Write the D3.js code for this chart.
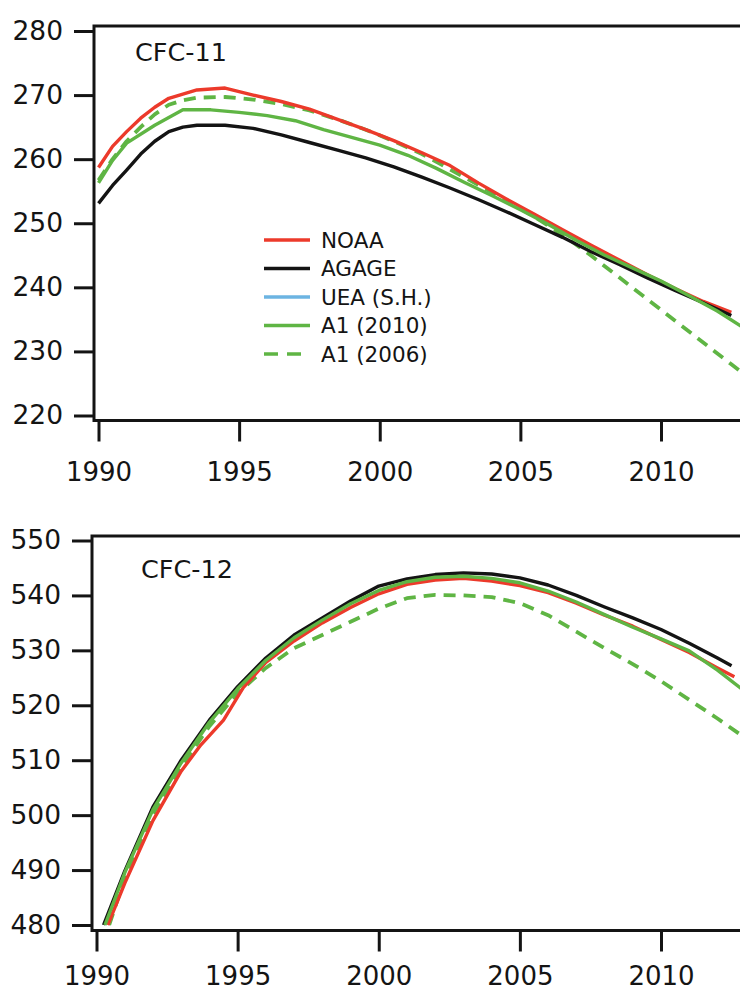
<!DOCTYPE html>
<html lang="en">
<head>
  <meta charset="UTF-8">
  <title>CFC-11 and CFC-12</title>
  <script src="https://cdn.jsdelivr.net/npm/d3@7"></script>
  <style>
    body { margin: 0; background: #fff; }
    svg { display: block; font-family: "DejaVu Sans", sans-serif; }
  </style>
</head>
<body>
  <div id="chart"></div>
  <script>
    // tick labels
    const yearTicks = [1990, 1995, 2000, 2005, 2010];
    const cfc11Ticks = [220, 230, 240, 250, 260, 270, 280];
    const cfc12Ticks = [480, 490, 500, 510, 520, 530, 540, 550];

    // legend
    const seriesNames = ["NOAA", "AGAGE", "UEA (S.H.)", "A1 (2010)", "A1 (2006)"];
    const seriesColors = ["#ec3a2b", "#141414", "#6cb4e2", "#5fb544", "#5fb544"];
    const seriesDashed = [false, false, false, false, true];

    // CFC-11, ppt  [year, value]
    const cfc11Noaa = [[1990.0, 258.7], [1990.5, 262.0], [1991.0, 264.3], [1991.5, 266.4], [1992.0, 268.1], [1992.5, 269.5],
      [1993.5, 270.8], [1994.5, 271.1], [1995.5, 270.0], [1996.5, 269.0], [1997.5, 267.8], [1998.5, 266.2], [1999.5, 264.6],
      [2000.5, 262.9], [2001.5, 261.0], [2002.5, 259.0], [2003.5, 256.3], [2004.5, 253.8], [2005.5, 251.4], [2006.5, 249.0],
      [2007.5, 246.6], [2008.5, 244.3], [2009.5, 242.0], [2010.5, 239.8], [2011.5, 237.8], [2012.5, 236.1]];
    const cfc11Agage = [[1990.0, 253.1], [1990.5, 255.9], [1991.0, 258.3], [1991.5, 260.8], [1992.0, 262.8], [1992.5, 264.3],
      [1993.0, 265.0], [1993.5, 265.3], [1994.5, 265.3], [1995.5, 264.8], [1996.5, 263.8], [1997.5, 262.6], [1998.5, 261.4],
      [1999.5, 260.2], [2000.5, 258.8], [2001.5, 257.2], [2002.5, 255.5], [2003.5, 253.7], [2004.5, 251.8], [2005.5, 249.8],
      [2006.5, 247.8], [2007.5, 245.6], [2008.5, 243.6], [2009.5, 241.5], [2010.5, 239.5], [2011.5, 237.6], [2012.5, 235.6]];
    const cfc11A1_2010 = [[1990.0, 256.3], [1990.5, 259.8], [1991.0, 262.5], [1992.0, 265.3], [1993.0, 267.7], [1994.0, 267.7],
      [1995.0, 267.3], [1996.0, 266.8], [1997.0, 266.0], [1998.0, 264.6], [1999.0, 263.4], [2000.0, 262.2], [2001.0, 260.6],
      [2002.0, 258.6], [2003.0, 256.4], [2004.0, 254.3], [2005.0, 252.1], [2006.0, 249.8], [2007.0, 247.3], [2008.0, 245.0],
      [2009.0, 243.0], [2010.0, 241.0], [2011.0, 238.7], [2012.0, 236.3], [2013.0, 233.5]];
    const cfc11A1_2006 = [[1990.0, 256.7], [1990.5, 260.0], [1991.0, 262.8], [1991.5, 265.0], [1992.0, 267.0], [1992.5, 268.5],
      [1993.0, 269.2], [1993.5, 269.6], [1994.5, 269.7], [1995.5, 269.3], [1996.5, 268.6], [1997.5, 267.6], [1998.5, 266.2],
      [1999.5, 264.6], [2000.5, 262.8], [2001.5, 260.8], [2002.5, 258.4], [2003.5, 256.0], [2004.5, 253.6], [2005.5, 251.0],
      [2006.5, 248.2], [2007.5, 245.0], [2008.5, 241.6], [2009.5, 238.2], [2010.5, 234.8], [2011.5, 231.4], [2012.5, 228.0],
      [2013.0, 226.3]];

    // CFC-12, ppt  [year, value]
    const cfc12Noaa = [[1990.4, 480.0], [1991.0, 487.6], [1992.0, 499.0], [1993.0, 508.0], [1993.7, 512.8], [1994.5, 517.3],
      [1995.2, 523.2], [1996.0, 527.8], [1997.0, 531.7], [1998.0, 535.0], [1999.0, 537.8], [2000.0, 540.3], [2001.0, 542.0],
      [2002.0, 542.8], [2003.0, 543.1], [2004.0, 542.6], [2005.0, 541.8], [2006.0, 540.5], [2007.0, 538.6], [2008.0, 536.4],
      [2009.0, 534.4], [2010.0, 532.0], [2011.0, 529.6], [2012.0, 526.8], [2012.6, 525.2]];
    const cfc12Agage = [[1990.25, 480.0], [1991.0, 489.8], [1992.0, 501.5], [1993.0, 510.0], [1994.0, 517.3], [1995.0, 523.4],
      [1996.0, 528.6], [1997.0, 532.8], [1998.0, 535.9], [1999.0, 539.0], [2000.0, 541.7], [2001.0, 543.0], [2002.0, 543.8],
      [2003.0, 544.1], [2004.0, 543.9], [2005.0, 543.2], [2006.0, 541.9], [2007.0, 540.0], [2008.0, 537.9], [2009.0, 535.9],
      [2010.0, 533.8], [2011.0, 531.3], [2012.0, 528.6], [2012.5, 527.2]];
    const cfc12A1_2010 = [[1990.3, 480.0], [1991.0, 489.5], [1992.0, 501.0], [1993.0, 509.5], [1994.0, 516.9], [1995.0, 523.0],
      [1996.0, 528.2], [1997.0, 532.3], [1998.0, 535.5], [1999.0, 538.5], [2000.0, 540.9], [2001.0, 542.5], [2002.0, 543.3],
      [2003.0, 543.5], [2004.0, 543.1], [2005.0, 542.3], [2006.0, 540.8], [2007.0, 538.8], [2008.0, 536.5], [2009.0, 534.2],
      [2010.0, 532.1], [2011.0, 529.9], [2012.0, 526.4], [2013.0, 522.4]];
    const cfc12A1_2006 = [[1990.45, 480.0], [1991.0, 488.5], [1992.0, 500.2], [1993.0, 508.8], [1994.0, 516.2], [1995.0, 522.2],
      [1996.0, 526.8], [1997.0, 530.4], [1998.0, 532.8], [1999.0, 535.2], [2000.0, 537.6], [2001.0, 539.5], [2002.0, 540.1],
      [2003.0, 540.0], [2004.0, 539.7], [2005.0, 538.6], [2006.0, 536.4], [2007.0, 533.4], [2008.0, 530.4], [2009.0, 527.5],
      [2010.0, 524.4], [2011.0, 521.0], [2012.0, 517.6], [2013.0, 514.0]];

    const width = 740, height = 992;

    const svg = d3.select("#chart").append("svg")
      .attr("width", width)
      .attr("height", height);

    function drawPanel(p) {
      const x = d3.scaleLinear().domain([1990, 2010]).range([p.x1990, p.x2010]);
      const y = d3.scaleLinear().domain(p.yDomain).range(p.yRange);
      const g = svg.append("g");

      const clipId = "clip-" + p.id;
      g.append("clipPath").attr("id", clipId)
        .append("rect")
        .attr("x", p.left).attr("y", p.top)
        .attr("width", width - p.left + 40).attr("height", p.bottom - p.top);

      const line = d3.line().x(d => x(d[0])).y(d => y(d[1]));

      // dashed first, then the solid ones on top
      const order = [4, 0, 1, 3];
      order.forEach(i => {
        const data = p.series[i];
        if (!data) return;
        g.append("path")
          .datum(data)
          .attr("clip-path", `url(#${clipId})`)
          .attr("fill", "none")
          .attr("stroke", seriesColors[i])
          .attr("stroke-width", seriesDashed[i] ? 3.8 : 3.4)
          .attr("stroke-dasharray", seriesDashed[i] ? "12,8" : null)
          .attr("stroke-linejoin", "round")
          .attr("d", line);
      });

      // frame (right side runs off the page)
      g.append("path")
        .attr("fill", "none")
        .attr("stroke", "#141414")
        .attr("stroke-width", 3)
        .attr("d", `M${width + 10},${p.top}H${p.left}V${p.bottom}H${width + 10}`);

      // y axis
      const yAxis = g.append("g")
        .attr("transform", `translate(${p.left},0)`)
        .call(d3.axisLeft(y).tickValues(p.yTicks).tickSize(20).tickPadding(11));
      yAxis.select(".domain").remove();
      yAxis.attr("font-family", null).attr("font-size", null);
      yAxis.selectAll(".tick line").attr("stroke", "#141414").attr("stroke-width", 3);
      yAxis.selectAll(".tick text").attr("fill", "#141414").style("font-size", "26.5px");

      // x axis
      const xAxis = g.append("g")
        .attr("transform", `translate(0,${p.bottom})`)
        .call(d3.axisBottom(x).tickValues(yearTicks).tickSize(21).tickPadding(p.xPad).tickFormat(d3.format("d")));
      xAxis.select(".domain").remove();
      xAxis.attr("font-family", null).attr("font-size", null);
      xAxis.selectAll(".tick line").attr("stroke", "#141414").attr("stroke-width", 3);
      xAxis.selectAll(".tick text").attr("fill", "#141414").style("font-size", "26px");

      // panel title
      g.append("text")
        .attr("x", p.titleX).attr("y", p.titleY)
        .attr("fill", "#141414")
        .style("font-size", "25.5px")
        .text(p.title);

      return g;
    }

    const top11 = drawPanel({
      id: "cfc11", title: "CFC-11", titleX: 135, titleY: 61,
      left: 94, top: 26, bottom: 420.5, xPad: 21,
      x1990: 98.5, x2010: 661,
      yDomain: [220, 280], yRange: [415.5, 31], yTicks: cfc11Ticks,
      series: [cfc11Noaa, cfc11Agage, null, cfc11A1_2010, cfc11A1_2006]
    });

    drawPanel({
      id: "cfc12", title: "CFC-12", titleX: 141, titleY: 578,
      left: 92, top: 536, bottom: 930.5, xPad: 15,
      x1990: 96.5, x2010: 661,
      yDomain: [480, 550], yRange: [925, 540.5], yTicks: cfc12Ticks,
      series: [cfc12Noaa, cfc12Agage, null, cfc12A1_2010, cfc12A1_2006]
    });

    // legend inside the CFC-11 panel
    const legend = top11.append("g").attr("transform", "translate(264,240)");
    seriesNames.forEach((name, i) => {
      const row = legend.append("g").attr("transform", `translate(0,${i * 28.5})`);
      row.append("line")
        .attr("x1", 0).attr("x2", 46)
        .attr("stroke", seriesColors[i])
        .attr("stroke-width", 3.4)
        .attr("stroke-dasharray", seriesDashed[i] ? "14,9" : null);
      row.append("text")
        .attr("x", 57).attr("dy", "0.36em")
        .attr("fill", "#141414")
        .style("font-size", "21.5px")
        .text(name);
    });
  </script>
</body>
</html>
